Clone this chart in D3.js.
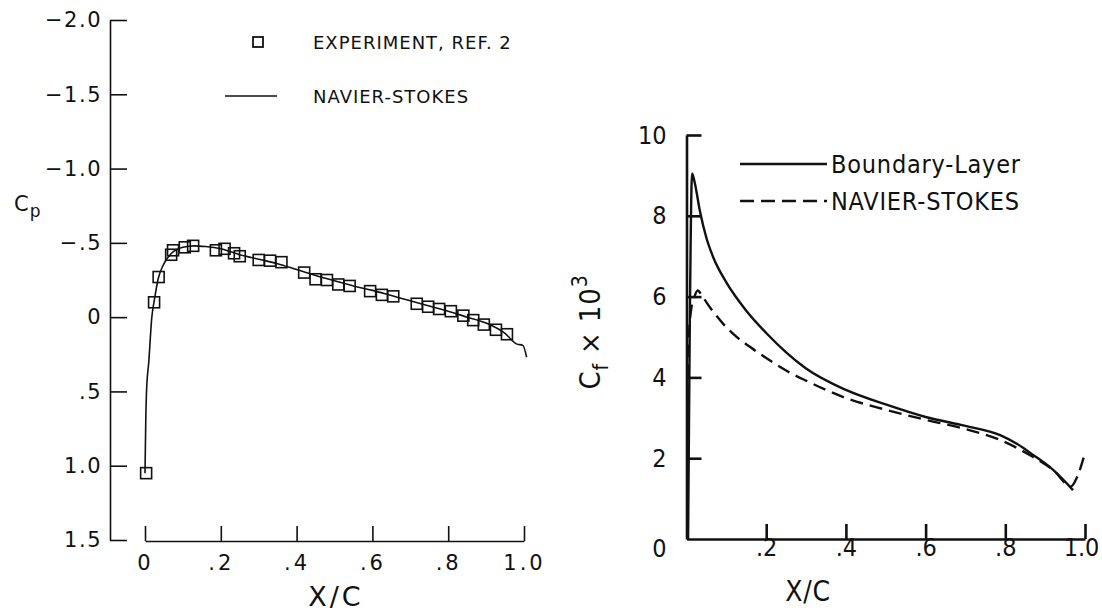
<!DOCTYPE html>
<meta charset="utf-8">
<style>
  body { margin: 0; background: #fff; }
  .lt text { font-family: "DejaVu Sans", "Liberation Sans", sans-serif; font-size: 18px; fill: #111; letter-spacing: 1px; }
  .lt .tick text { letter-spacing: 1.5px; }
  .lt .xax .tick text { letter-spacing: 3px; }
  .rt text { font-family: "Liberation Sans Narrow", "DejaVu Sans Condensed", sans-serif; font-size: 25px; fill: #111; letter-spacing: 0.8px; }
  .rt .tick text { letter-spacing: 0; }
</style>
<body>
<script src="https://cdn.jsdelivr.net/npm/d3@7"></script>
<script>

    var width = 1102,
        height = 612;

    // left panel: pressure coefficient
    var cpTicks = [-2, -1.5, -1, -0.5, 0, 0.5, 1, 1.5];
    var xTicks = [0, 0.2, 0.4, 0.6, 0.8, 1.0];

    var expX = [0.003, 0.024, 0.036, 0.069, 0.074, 0.105, 0.127, 0.187, 0.21, 0.235, 0.25, 0.30, 0.33, 0.36,
                0.42, 0.45, 0.48, 0.51, 0.54, 0.594, 0.625, 0.655, 0.717, 0.747, 0.776, 0.807, 0.84, 0.866,
                0.894, 0.926, 0.955];
    var expCp = [1.05, -0.10, -0.27, -0.42, -0.45, -0.47, -0.48, -0.45, -0.46, -0.43, -0.41, -0.385, -0.38, -0.37,
                 -0.30, -0.255, -0.25, -0.22, -0.21, -0.175, -0.15, -0.14, -0.09, -0.07, -0.055, -0.04, -0.01, 0.02,
                 0.05, 0.085, 0.115];

    var nsX = [0, 0.002, 0.004, 0.01, 0.018, 0.025, 0.035, 0.05, 0.07, 0.1, 0.13, 0.16, 0.2, 0.25, 0.3, 0.35,
               0.4, 0.45, 0.5, 0.55, 0.6, 0.65, 0.7, 0.75, 0.8, 0.85, 0.9, 0.95, 0.98, 0.997, 1.007];
    var nsCp = [1.05, 0.7, 0.5, 0.3, 0, -0.12, -0.26, -0.36, -0.43, -0.47, -0.48, -0.475, -0.46, -0.42, -0.39, -0.36,
                -0.32, -0.28, -0.245, -0.21, -0.18, -0.145, -0.11, -0.075, -0.04, 0.0, 0.04, 0.11, 0.18, 0.19, 0.27];

    // right panel: skin friction x 10^3
    var cfTicks = [0, 2, 4, 6, 8, 10];

    var blX = [0.004, 0.008, 0.014, 0.02, 0.034, 0.05, 0.066, 0.1, 0.15, 0.2, 0.25, 0.3, 0.4, 0.5, 0.6, 0.7,
               0.787, 0.83, 0.87, 0.92, 0.97];
    var blCf = [0, 5, 9.05, 8.85, 8.1, 7.45, 7.0, 6.35, 5.65, 5.1, 4.62, 4.22, 3.69, 3.33, 3.02, 2.8,
                2.57, 2.35, 2.08, 1.71, 1.21];

    var nscX = [0.002, 0.006, 0.012, 0.02, 0.028, 0.04, 0.06, 0.09, 0.12, 0.16, 0.2, 0.25, 0.3, 0.4, 0.5, 0.6,
                0.7, 0.787, 0.87, 0.92, 0.965, 0.98, 1.0];
    var nscCf = [3.5, 5.0, 5.7, 6.0, 6.15, 6.0, 5.72, 5.35, 5.05, 4.75, 4.48, 4.17, 3.92, 3.49, 3.2, 2.95,
                 2.72, 2.45, 2.03, 1.71, 1.3, 1.53, 2.13];

    var svg = d3.select("body").append("svg")
            .attr("width", width)
            .attr("height", height);

    function fmtCp(v) {
        if (v === 0) return "0";
        var a = Math.abs(v);
        var s = a >= 1 ? a.toFixed(1) : "." + Math.round(a * 10);
        return (v < 0 ? "\u2212" : "") + s;
    }
    function fmtX(v) {
        if (v === 0) return "0";
        return v >= 1 ? v.toFixed(1) : "." + Math.round(v * 10);
    }

    //左图
    var left = svg.append("g").attr("class", "lt");
    var x1 = d3.scaleLinear().domain([0, 1]).range([145, 524]);
    var y1 = d3.scaleLinear().domain([-2, 1.5]).range([20, 540]);

    left.append("g")
            .attr("transform", "translate(110,0)")
            .call(d3.axisLeft(y1).tickValues(cpTicks).tickFormat(fmtCp).tickSizeInner(-17).tickSizeOuter(0).tickPadding(8));
    left.append("g")
            .attr("class", "xax")
            .attr("transform", "translate(0,541)")
            .call(d3.axisBottom(x1).tickValues(xTicks).tickFormat(fmtX).tickSizeInner(-15).tickSizeOuter(0).tickPadding(14));

    left.selectAll(".domain, .tick line").attr("stroke", "#111").attr("stroke-width", 1.6);
    left.selectAll(".tick text").style("font-size", "21px").attr("fill", "#111");

    var line1 = d3.line()
            .x(function(d) { return x1(d[0]); })
            .y(function(d) { return y1(d[1]); })
            .curve(d3.curveMonotoneX);

    left.append("path")
            .datum(d3.zip(nsX, nsCp))
            .attr("d", line1)
            .attr("fill", "none")
            .attr("stroke", "#111")
            .attr("stroke-width", 1.6);

    left.selectAll(".sq")
            .data(d3.zip(expX, expCp))
            .enter().append("rect")
            .attr("class", "sq")
            .attr("x", function(d) { return x1(d[0]) - 5.5; })
            .attr("y", function(d) { return y1(d[1]) - 5.5; })
            .attr("width", 11)
            .attr("height", 11)
            .attr("fill", "none")
            .attr("stroke", "#111")
            .attr("stroke-width", 1.6);

    // legend
    left.append("rect").attr("x", 253).attr("y", 37).attr("width", 10).attr("height", 10)
            .attr("fill", "none").attr("stroke", "#111").attr("stroke-width", 1.8);
    left.append("text").attr("x", 313).attr("y", 49).text("EXPERIMENT, REF. 2");
    left.append("line").attr("x1", 225).attr("x2", 277).attr("y1", 96).attr("y2", 96)
            .attr("stroke", "#111").attr("stroke-width", 1.4);
    left.append("text").attr("x", 313).attr("y", 103).text("NAVIER-STOKES");

    var cpLab = left.append("text").attr("x", 14).attr("y", 211).style("font-size", "21px");
    cpLab.append("tspan").text("C");
    cpLab.append("tspan").attr("dy", 6).style("font-size", "17px").text("p");

    left.append("text").attr("x", 336).attr("y", 606).attr("text-anchor", "middle")
            .style("font-size", "27px").style("letter-spacing", "3px").text("X/C");

    //右图
    var right = svg.append("g").attr("class", "rt");
    var x2 = d3.scaleLinear().domain([0, 1]).range([686.5, 1085]);
    var y2 = d3.scaleLinear().domain([0, 10]).range([539, 135]);

    var yAx = right.append("g")
            .attr("transform", "translate(686.5,0)")
            .call(d3.axisLeft(y2).tickValues(cfTicks).tickFormat(d3.format("d")).tickSizeInner(-15).tickSizeOuter(0).tickPadding(20));
    yAx.selectAll(".tick").filter(function(d) { return d === 0; }).select("text").attr("dy", "0.7em");
    yAx.selectAll(".tick").filter(function(d) { return d === 0; }).select("line").remove();

    var xAx = right.append("g")
            .attr("transform", "translate(0,539)")
            .call(d3.axisBottom(x2).tickValues(xTicks.slice(1)).tickFormat(fmtX).tickSizeInner(-15).tickSizeOuter(0).tickPadding(-1));
    xAx.selectAll(".tick").filter(function(d) { return d === 1; }).select("text").attr("dx", "-4");

    right.selectAll(".domain, .tick line").attr("stroke", "#111").attr("stroke-width", 2.6);
    right.selectAll(".tick text").style("font-size", "25px").attr("fill", "#111");

    var line2 = d3.line()
            .x(function(d) { return x2(d[0]); })
            .y(function(d) { return y2(d[1]); })
            .curve(d3.curveMonotoneX);

    right.append("path")
            .datum(d3.zip(blX, blCf))
            .attr("d", line2)
            .attr("fill", "none")
            .attr("stroke", "#111")
            .attr("stroke-width", 2.4);

    right.append("path")
            .datum(d3.zip(nscX, nscCf))
            .attr("d", line2)
            .attr("fill", "none")
            .attr("stroke", "#111")
            .attr("stroke-width", 2.4)
            .attr("stroke-dasharray", "13,7");

    // legend
    right.append("line").attr("x1", 740).attr("x2", 827).attr("y1", 164).attr("y2", 164)
            .attr("stroke", "#111").attr("stroke-width", 2.4);
    right.append("text").attr("x", 831).attr("y", 173).text("Boundary-Layer");
    right.append("line").attr("x1", 740).attr("x2", 827).attr("y1", 201).attr("y2", 201)
            .attr("stroke", "#111").attr("stroke-width", 2.4).attr("stroke-dasharray", "14,7");
    right.append("text").attr("x", 831).attr("y", 210).text("NAVIER-STOKES");

    var cfLab = right.append("text")
            .attr("transform", "translate(600,332) rotate(-90)")
            .attr("text-anchor", "middle")
            .style("font-size", "29px");
    cfLab.append("tspan").text("C");
    cfLab.append("tspan").attr("dy", 8).style("font-size", "21px").text("f");
    cfLab.append("tspan").attr("dy", -8).text(" \u00d7 10");
    cfLab.append("tspan").attr("dy", -13).style("font-size", "21px").text("3");

    right.append("text").attr("x", 808).attr("y", 601).attr("text-anchor", "middle")
            .style("font-size", "28px").text("X/C");

</script>
